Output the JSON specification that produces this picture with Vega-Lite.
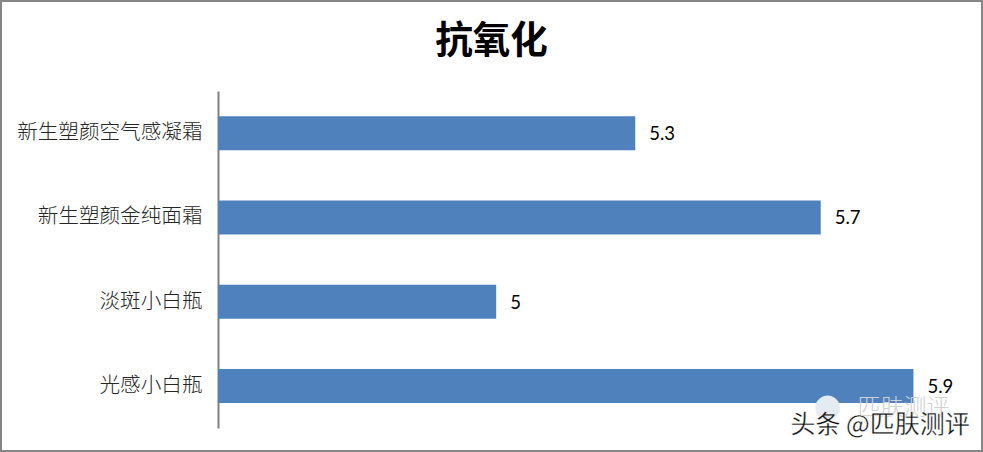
{"$schema":"https://vega.github.io/schema/vega-lite/v6.json","width":983,"height":452,"autosize":"none","padding":0,"background":"#ffffff","view":{"stroke":"#868686","strokeWidth":4},"title":{"text":"抗氧化","font":"Noto Sans CJK SC","fontSize":37.5,"fontWeight":"bold","color":"#000000","anchor":"middle","frame":"group","baseline":"alphabetic","offset":-90},"data":{"values":[{"name":"新生塑颜空气感凝霜","v":5.3},{"name":"新生塑颜金纯面霜","v":5.7},{"name":"淡斑小白瓶","v":5},{"name":"光感小白瓶","v":5.9}]},"encoding":{"x":{"field":"v","type":"quantitative","scale":{"domain":[4.4,6.05],"range":[218,983]},"axis":null},"y":{"field":"name","type":"nominal","sort":null,"scale":{"range":[91,428]},"axis":{"title":null,"offset":-218,"ticks":false,"domainColor":"#808080","domainWidth":2,"labelPadding":16,"labelFont":"Noto Sans CJK SC","labelFontWeight":300,"labelFontSize":20.6,"labelColor":"#262626","labelLimit":260,"grid":false}}},"layer":[{"mark":{"type":"bar","color":"#4f81bd","size":34},"encoding":{"x2":{"datum":4.4}}},{"mark":{"type":"text","align":"left","baseline":"middle","dx":14,"dy":1,"font":"Lato","fontSize":18.5,"color":"#000000"},"encoding":{"text":{"field":"v","type":"quantitative"}}},{"transform":[{"filter":"datum.v==5.9"}],"mark":{"type":"text","align":"left","baseline":"middle","dx":-100,"dy":20,"font":"DejaVu Sans","fontSize":32,"color":"#e4ebf3"},"encoding":{"text":{"value":"●"}}},{"transform":[{"filter":"datum.v==5.9"}],"mark":{"type":"text","align":"left","baseline":"middle","dx":-56,"dy":22,"font":"Noto Sans CJK SC","fontSize":23,"fontWeight":300,"color":"#d0d0d0"},"encoding":{"text":{"value":"匹肤测评"}}},{"transform":[{"filter":"datum.v==5.9"}],"mark":{"type":"text","align":"left","baseline":"middle","dx":-123,"dy":39,"font":"Noto Sans CJK SC","fontSize":25,"fontWeight":400,"color":"#111111","stroke":"#ffffff","strokeWidth":0.3},"encoding":{"text":{"value":"头条 @匹肤测评"}}}]}
